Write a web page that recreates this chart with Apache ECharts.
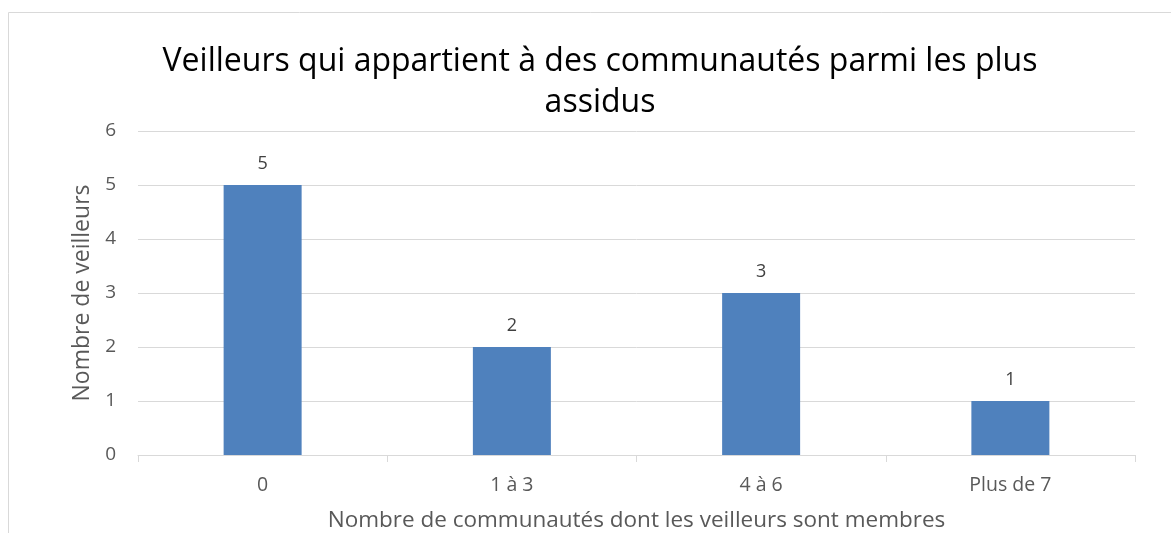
<!DOCTYPE html>
<html><head><meta charset="utf-8">
<script src="https://cdn.jsdelivr.net/npm/echarts@6/dist/echarts.min.js"></script>
<style>html,body{margin:0;padding:0;background:#fff}#c{width:1171px;height:533px}</style>
</head><body><div id="c"></div>
<script>
const categories = ['0', '1 à 3', '4 à 6', 'Plus de 7'];
const values = [5, 2, 3, 1];
const titleText = 'Veilleurs qui appartient à des communautés parmi les plus\nassidus';
const xName = 'Nombre de communautés dont les veilleurs sont membres';
const yName = 'Nombre de veilleurs';
const font = 'Open Sans';
const chart = echarts.init(document.getElementById('c'));
chart.setOption({
  animation: false,
  graphic: [{type:'rect', shape:{x:8.5,y:12.5,width:1200,height:600}, style:{fill:'none', stroke:'#d9d9d9', lineWidth:1}, silent:true}],
  title: {text: titleText, left: 595, top: 36, textAlign: 'center',
    textStyle: {fontFamily: font, fontSize: 32, fontWeight: 'normal', color: '#000', lineHeight: 41}},
  grid: {left: 138, right: 36, top: 131, bottom: 78, containLabel: false, outerBoundsMode: 'none'},
  xAxis: {type:'category', data: categories, name: xName, nameLocation:'middle', nameGap: 54,
    nameTextStyle:{fontFamily:font, fontSize:22.5, color:'#595959'},
    axisLine:{lineStyle:{color:'#d9d9d9'}}, axisTick:{show:true, length:7, lineStyle:{color:'#d9d9d9'}},
    axisLabel:{fontFamily:font, fontSize:19.5, color:'#595959', margin:20}},
  yAxis: {type:'value', min:0, max:6, interval:1, name: yName, nameLocation:'middle', nameGap: 42,
    nameTextStyle:{fontFamily:font, fontSize:23, color:'#595959'},
    axisLine:{show:false}, axisTick:{show:false},
    splitLine:{lineStyle:{color:'#d9d9d9'}},
    axisLabel:{fontFamily:font, fontSize:19, color:'#595959', margin:22}},
  series: [{type:'bar', data: values, barWidth: 78, itemStyle:{color:'#4f81bd'},
    label:{show:true, position:'top', distance:12, fontFamily:font, fontSize:18, color:'#404040'}}]
});
</script></body></html>
